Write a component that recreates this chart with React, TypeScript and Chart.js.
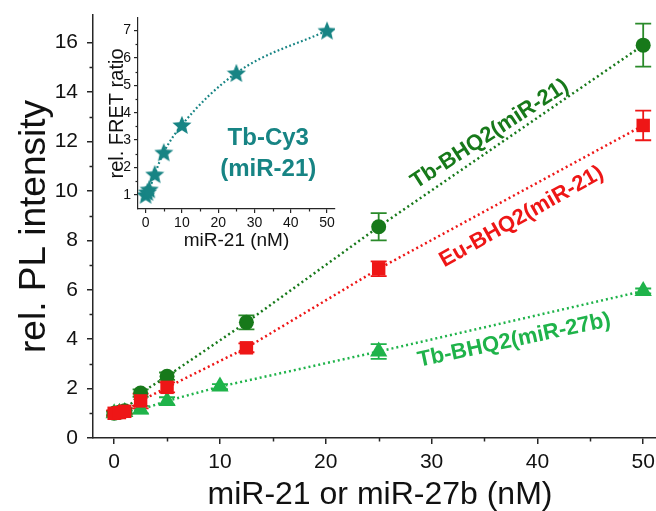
import React, { useEffect, useRef } from 'react';
import { Chart, registerables } from 'chart.js';

Chart.register(...registerables);

const FAMILY = "'Liberation Sans', Arimo, Arial, sans-serif";

const DARK_GREEN = '#17791a';
const RED = '#ee1616';
const LIGHT_GREEN = '#1fb34a';
const TEAL = '#178484';
const AXIS = '#262626';
const TEXT = '#111111';

// ---- main chart data ----
const concTbMiR21 = [0, 0.5, 1, 2.5, 5, 12.5, 25, 50];
const plTbMiR21 = [1.0, 1.04, 1.1, 1.82, 2.5, 4.68, 8.55, 15.9];
const errTbMiR21 = [0.1, 0.1, 0.1, 0.15, 0.15, 0.28, 0.55, 0.87];

const concEuMiR21 = [0, 0.5, 1, 2.5, 5, 12.5, 25, 50];
const plEuMiR21 = [1.0, 1.03, 1.08, 1.5, 2.05, 3.65, 6.85, 12.65];
const errEuMiR21 = [0.12, 0.12, 0.12, 0.3, 0.2, 0.18, 0.3, 0.6];

const concTbMiR27b = [0, 0.5, 1, 2.5, 5, 10, 25, 50];
const plTbMiR27b = [1.0, 1.02, 1.05, 1.15, 1.5, 2.08, 3.5, 5.95];
const errTbMiR27b = [0.06, 0.06, 0.06, 0.15, 0.15, 0.1, 0.3, 0.1];

const xTickValues = [0, 10, 20, 30, 40, 50];
const xMinorValues = [5, 15, 25, 35, 45];
const yTickValues = [0, 2, 4, 6, 8, 10, 12, 14, 16];
const yMinorValues = [1, 3, 5, 7, 9, 11, 13, 15];

// ---- inset data ----
const concCy3 = [0, 0.5, 1, 2.5, 5, 10, 25, 50];
const fretCy3 = [1.0, 1.1, 1.2, 1.75, 2.55, 3.55, 5.45, 7.0];

const insetXTickValues = [0, 10, 20, 30, 40, 50];
const insetXMinorValues = [5, 15, 25, 35, 45];
const insetYTickValues = [1, 2, 3, 4, 5, 6, 7];
const insetYMinorValues = [1.5, 2.5, 3.5, 4.5, 5.5, 6.5];

const mainLabels = [
  { text: 'Tb-BHQ2(miR-21)', x: 35.5, y: 12.3, angle: -33, color: DARK_GREEN },
  { text: 'Eu-BHQ2(miR-21)', x: 38.5, y: 8.95, angle: -29.5, color: RED },
  { text: 'Tb-BHQ2(miR-27b)', x: 37.8, y: 3.95, angle: -12, color: LIGHT_GREEN },
];
const insetLabels = [
  { text: 'Tb-Cy3', x: 33.8, y: 3.07, angle: 0, color: TEAL },
  { text: '(miR-21)', x: 33.8, y: 1.93, angle: 0, color: TEAL },
];

const toPoints = (xs: number[], ys: number[]) => xs.map((x, i) => ({ x, y: ys[i] }));

function makeStar(size: number, color: string): HTMLCanvasElement {
  const c = document.createElement('canvas');
  c.width = size;
  c.height = size;
  const g = c.getContext('2d')!;
  const cx = size / 2, cy = size / 2 + size * 0.04;
  const R = size / 2, r = R * 0.45;
  g.beginPath();
  for (let i = 0; i < 10; i++) {
    const rad = i % 2 === 0 ? R : r;
    const a = -Math.PI / 2 + (i * Math.PI) / 5;
    const px = cx + rad * Math.cos(a), py = cy + rad * Math.sin(a);
    if (i === 0) g.moveTo(px, py); else g.lineTo(px, py);
  }
  g.closePath();
  g.fillStyle = color;
  g.fill();
  return c;
}

function minorTicks(xs: number[], ys: number[], len: number, width: number) {
  return {
    id: 'minorTicks',
    afterDraw(chart: any) {
      const { ctx } = chart;
      const sx = chart.scales.x, sy = chart.scales.y;
      ctx.save();
      ctx.strokeStyle = AXIS;
      ctx.lineWidth = width;
      xs.forEach((v) => {
        const px = Math.round(sx.getPixelForValue(v)) + 0.5;
        ctx.beginPath();
        ctx.moveTo(px, sx.top);
        ctx.lineTo(px, sx.top + len);
        ctx.stroke();
      });
      ys.forEach((v) => {
        const py = Math.round(sy.getPixelForValue(v)) + 0.5;
        ctx.beginPath();
        ctx.moveTo(sy.right, py);
        ctx.lineTo(sy.right - len, py);
        ctx.stroke();
      });
      ctx.restore();
    },
  };
}

function textLabels(items: typeof mainLabels, size: number) {
  return {
    id: 'textLabels',
    afterDatasetsDraw(chart: any) {
      const { ctx } = chart;
      const sx = chart.scales.x, sy = chart.scales.y;
      ctx.save();
      ctx.font = `bold ${size}px ${FAMILY}`;
      ctx.textAlign = 'center';
      ctx.textBaseline = 'middle';
      items.forEach((it) => {
        ctx.save();
        ctx.translate(sx.getPixelForValue(it.x), sy.getPixelForValue(it.y));
        ctx.rotate((it.angle * Math.PI) / 180);
        ctx.fillStyle = it.color;
        ctx.fillText(it.text, 0, 0);
        ctx.restore();
      });
      ctx.restore();
    },
  };
}

const errorBars = {
  id: 'errorBars',
  beforeDatasetsDraw(chart: any) {
    const { ctx } = chart;
    const sy = chart.scales.y;
    for (let i = chart.data.datasets.length - 1; i >= 0; i--) {
      const ds: any = chart.data.datasets[i];
      if (!ds.errors) continue;
      const meta = chart.getDatasetMeta(i);
      ctx.save();
      ctx.strokeStyle = ds.errorColor;
      ctx.lineWidth = 1.8;
      meta.data.forEach((pt: any, j: number) => {
        const e = ds.errors[j];
        if (!e) return;
        const v = ds.data[j].y;
        const top = sy.getPixelForValue(v + e);
        const bot = sy.getPixelForValue(v - e);
        const x = pt.x;
        ctx.beginPath();
        ctx.moveTo(x, top);
        ctx.lineTo(x, bot);
        ctx.moveTo(x - 8, top);
        ctx.lineTo(x + 8, top);
        ctx.moveTo(x - 8, bot);
        ctx.lineTo(x + 8, bot);
        ctx.stroke();
      });
      ctx.restore();
    }
  },
};

function fixedTicks(values: number[]) {
  return (scale: any) => {
    scale.ticks = values.map((v) => ({ value: v }));
  };
}

function fitTo(dim: 'height' | 'width', size: number) {
  return (s: any) => {
    s[dim] = size;
    s.paddingLeft = 0;
    s.paddingRight = 0;
    s.paddingTop = 0;
    s.paddingBottom = 0;
  };
}

function mainConfig(): any {
  const line = {
    showLine: true,
    borderWidth: 2.5,
    borderDash: [2, 3],
    borderCapStyle: 'butt',
    tension: 0,
    pointBorderWidth: 0,
  };
  return {
    type: 'scatter',
    data: {
      datasets: [
        {
          ...line,
          label: 'Eu-BHQ2(miR-21)',
          data: toPoints(concEuMiR21, plEuMiR21),
          errors: errEuMiR21,
          errorColor: RED,
          borderColor: RED,
          backgroundColor: RED,
          pointStyle: 'rect',
          pointRadius: 9.5,
        },
        {
          ...line,
          label: 'Tb-BHQ2(miR-21)',
          data: toPoints(concTbMiR21, plTbMiR21),
          errors: errTbMiR21,
          errorColor: '#2a8a2a',
          borderColor: DARK_GREEN,
          backgroundColor: DARK_GREEN,
          pointStyle: 'circle',
          pointRadius: 7.5,
        },
        {
          ...line,
          label: 'Tb-BHQ2(miR-27b)',
          data: toPoints(concTbMiR27b, plTbMiR27b),
          errors: errTbMiR27b,
          errorColor: LIGHT_GREEN,
          borderColor: LIGHT_GREEN,
          backgroundColor: LIGHT_GREEN,
          pointStyle: 'triangle',
          pointRadius: 10,
        },
      ],
    },
    options: {
      responsive: false,
      animation: false,
      layout: { autoPadding: false, padding: { top: 15, right: 0, left: 0, bottom: 0 } },
      plugins: { legend: { display: false }, tooltip: { enabled: false } },
      scales: {
        x: {
          type: 'linear',
          min: -2,
          max: 52.25,
          afterBuildTicks: fixedTicks(xTickValues),
          afterFit: fitTo('height', 73),
          grid: { display: true, drawOnChartArea: false, drawTicks: true, tickLength: 6, color: AXIS, lineWidth: 1.5 },
          border: { display: true, color: AXIS, width: 1.5 },
          ticks: { font: { size: 21, family: FAMILY }, color: TEXT, padding: 6, maxRotation: 0, autoSkip: false },
          title: { display: true, text: 'miR-21 or miR-27b (nM)', color: TEXT, font: { size: 32, family: FAMILY, lineHeight: 1 }, padding: { top: 0, bottom: 0 } },
        },
        y: {
          type: 'linear',
          min: 0,
          max: 17.12,
          afterBuildTicks: fixedTicks(yTickValues),
          afterFit: fitTo('width', 93),
          grid: { display: true, drawOnChartArea: false, drawTicks: true, tickLength: 6, color: AXIS, lineWidth: 1.5 },
          border: { display: true, color: AXIS, width: 1.5 },
          ticks: { font: { size: 21, family: FAMILY }, color: TEXT, padding: 9, autoSkip: false },
          title: { display: true, text: 'rel. PL intensity', color: TEXT, font: { size: 37, family: FAMILY, lineHeight: 1 }, padding: { top: 16, bottom: 0 } },
        },
      },
    },
    plugins: [errorBars, minorTicks(xMinorValues, yMinorValues, 3.5, 1.5), textLabels(mainLabels, 22)],
  };
}

function insetConfig(): any {
  return {
    type: 'scatter',
    data: {
      datasets: [
        {
          label: 'Tb-Cy3 (miR-21)',
          data: toPoints(concCy3, fretCy3),
          showLine: true,
          borderColor: TEAL,
          backgroundColor: TEAL,
          borderWidth: 2.2,
          borderDash: [1.8, 2.4],
          cubicInterpolationMode: 'monotone',
          pointStyle: makeStar(20, TEAL),
          pointRadius: 10,
        },
      ],
    },
    options: {
      responsive: false,
      animation: false,
      layout: { autoPadding: false, padding: { top: 18, right: 5, left: 0, bottom: 0 } },
      plugins: { legend: { display: false }, tooltip: { enabled: false } },
      scales: {
        x: {
          type: 'linear',
          min: -2.1,
          max: 52.2,
          afterBuildTicks: fixedTicks(insetXTickValues),
          afterFit: fitTo('height', 46),
          grid: { display: true, drawOnChartArea: false, drawTicks: true, tickLength: 4, color: AXIS, lineWidth: 1.2 },
          border: { display: true, color: AXIS, width: 1.2 },
          ticks: { font: { size: 14, family: FAMILY }, color: TEXT, padding: 2, maxRotation: 0, autoSkip: false },
          title: { display: true, text: 'miR-21 (nM)', color: TEXT, font: { size: 19, family: FAMILY, lineHeight: 1 }, padding: { top: 0, bottom: 5 } },
        },
        y: {
          type: 'linear',
          min: 0.48,
          max: 7.46,
          afterBuildTicks: fixedTicks(insetYTickValues),
          afterFit: fitTo('width', 48),
          grid: { display: true, drawOnChartArea: false, drawTicks: true, tickLength: 4, color: AXIS, lineWidth: 1.2 },
          border: { display: true, color: AXIS, width: 1.2 },
          ticks: { font: { size: 14, family: FAMILY }, color: TEXT, padding: 3, autoSkip: false },
          title: { display: true, text: 'rel. FRET ratio', color: TEXT, font: { size: 20, family: FAMILY, lineHeight: 1 }, padding: { top: 17, bottom: 0 } },
        },
      },
    },
    plugins: [minorTicks(insetXMinorValues, insetYMinorValues, 2.5, 1.2), textLabels(insetLabels, 24)],
  };
}

export default function App() {
  const mainRef = useRef<HTMLCanvasElement>(null);
  const insetRef = useRef<HTMLCanvasElement>(null);

  useEffect(() => {
    document.body.style.margin = '0';
    const main = new Chart(mainRef.current!, mainConfig());
    const inset = new Chart(insetRef.current!, insetConfig());
    return () => {
      main.destroy();
      inset.destroy();
    };
  }, []);

  return (
    <div style={{ position: 'relative', width: 656, height: 511, overflow: 'hidden', background: '#fff' }}>
      <canvas ref={mainRef} width={667} height={511} style={{ position: 'absolute', left: 0, top: 0 }} />
      <canvas ref={insetRef} width={250} height={255} style={{ position: 'absolute', left: 90, top: 0 }} />
    </div>
  );
}
